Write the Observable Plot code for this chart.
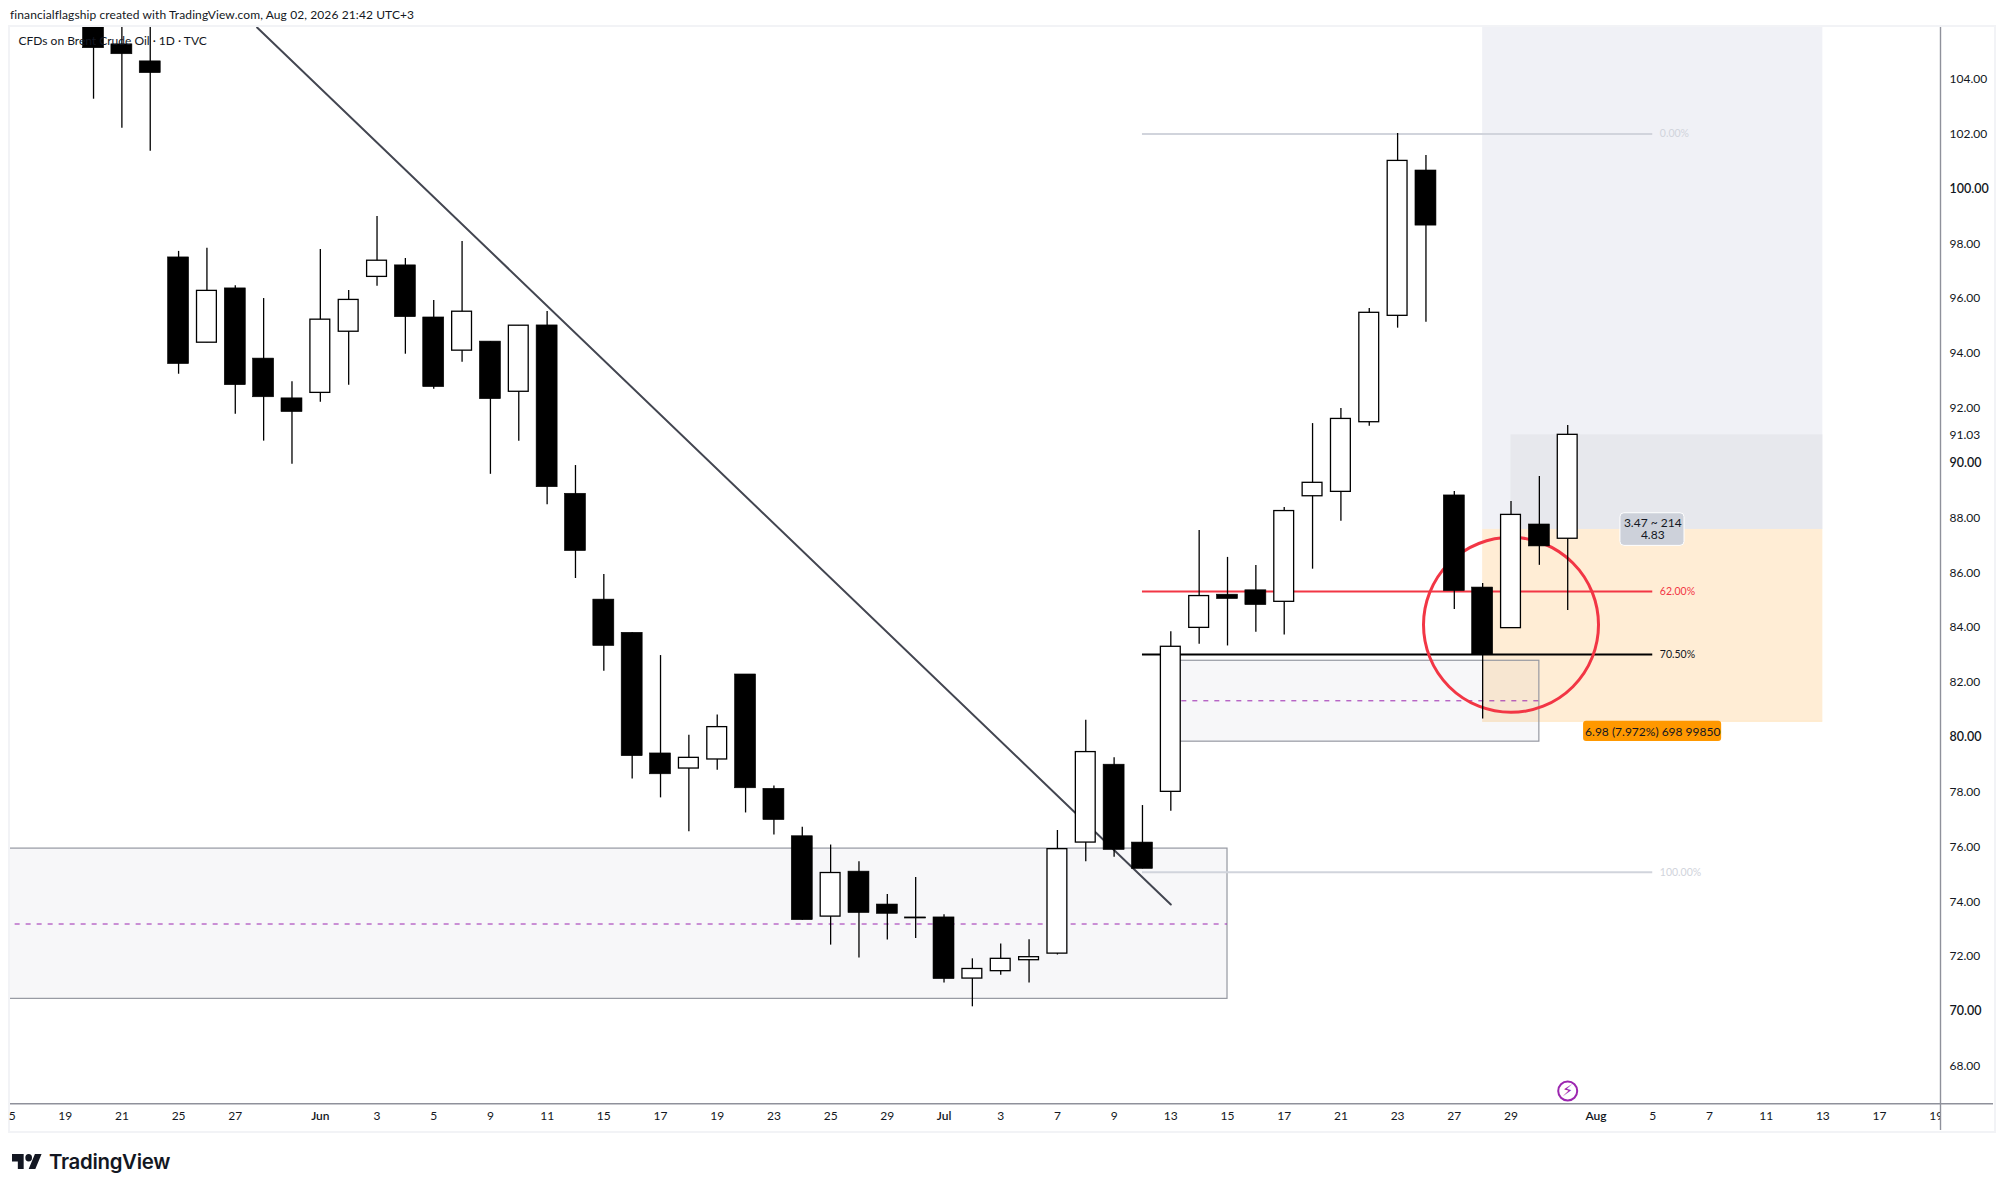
<!DOCTYPE html>
<html>
<head>
<meta charset="utf-8">
<script src="https://cdn.jsdelivr.net/npm/d3@7"></script>
<script src="https://cdn.jsdelivr.net/npm/@observablehq/plot@0.6"></script>
<style>
  html, body { margin: 0; padding: 0; background: #fff; width: 2004px; height: 1191px; overflow: hidden; font-family: Lato, sans-serif; color: #131722; }
  #head { position: absolute; left: 10px; top: 7px; font-size: 12px; line-height: 16px; letter-spacing: 0.1px; white-space: nowrap; }
  #chart { position: absolute; left: 0; top: 27px; }
  #border { position: absolute; left: 8px; top: 25px; width: 1984px; height: 1104px; border: 2px solid #f2f3f6; pointer-events: none; }
  #foot { position: absolute; left: 12px; top: 1147px; height: 28px; display: flex; align-items: center; gap: 7px; font-family: Inter, sans-serif; font-weight: 600; font-size: 20.4px; letter-spacing: -0.3px; color: #131722; }
</style>
</head>
<body>
<div id="head">financialflagship created with TradingView.com, Aug 02, 2026 21:42 UTC+3</div>
<div id="border"></div>
<div id="chart"></div>
<div id="foot"><svg width="30" height="15" viewBox="0 6 36 16" preserveAspectRatio="none"><path fill="#131722" d="M14 6H0v8h7v8h7V6Zm14 16h-8l7.5-16h8L28 22Zm-8-8a4 4 0 1 0 0-8 4 4 0 0 0 0 8Z"/></svg><span>TradingView</span></div>
<script>
// Daily candles, May 20 to Jul 31 (weekday sessions; index 0 is May 19)
const opens  = [106.5,105.27,104.65,97.50,94.39,96.37,93.81,92.36,92.56,94.79,96.79,97.21,95.31,94.10,94.43,92.60,95.02,88.88,85.02,83.81,79.41,78.86,79.19,82.29,78.12,76.39,73.46,75.10,73.90,73.43,73.43,71.20,71.47,71.87,72.11,76.16,79.00,76.16,78.01,83.99,85.20,85.36,84.94,88.79,88.95,91.49,95.37,100.67,88.82,85.46,83.98,87.76,87.24];
const highs  = [107.5,106.5,106.4,97.72,97.83,96.47,96.00,92.97,97.79,96.29,98.99,97.46,95.93,98.08,94.43,95.01,95.53,89.91,85.94,83.81,82.98,80.07,80.81,82.29,78.22,76.72,76.07,75.46,74.27,74.89,73.53,71.92,72.46,72.62,76.60,80.62,79.25,77.51,83.85,87.54,86.56,86.26,88.38,91.44,91.99,95.64,102.02,101.22,88.96,85.61,88.60,89.51,91.37];
const lows   = [103.27,102.21,101.37,93.24,94.39,91.78,90.80,89.96,92.22,92.84,96.45,93.97,92.69,93.68,89.59,90.80,88.48,85.79,82.41,78.48,77.79,76.55,78.80,77.24,76.44,73.33,72.42,71.95,72.61,72.66,71.04,70.17,71.32,71.04,72.06,75.46,75.62,75.20,77.30,83.39,83.33,83.83,83.73,86.13,87.88,91.34,94.92,95.14,84.66,80.67,83.98,86.27,84.62];
const closes = [105.13,104.91,104.22,93.61,96.28,92.84,92.40,91.86,95.23,95.95,97.38,95.32,92.77,95.52,92.33,95.01,89.12,86.79,83.33,79.31,78.65,79.25,80.37,78.14,76.98,73.33,75.05,73.59,73.56,73.39,71.18,71.55,71.92,71.98,75.92,79.46,75.89,75.20,83.30,85.15,85.04,84.82,88.25,89.28,91.61,95.48,101.02,98.66,85.33,83.00,88.11,86.96,91.03];

// Axis ticks
const dayTickIndex  = [-1.87,0,2,4,6,11,13,15,17,19,21,23,25,27,29,33,35,37,39,41,43,45,47,49,51,56,58,60,62,64,66];
const dayTickLabels = ["5","19","21","25","27","3","5","9","11","15","17","19","23","25","29","3","7","9","13","15","17","21","23","27","29","5","7","11","13","17","19"];
const monthTickIndex  = [9,31,54];
const monthTickLabels = ["Jun","Jul","Aug"];
const priceTicks = [104,102,98,96,94,92,91.03,88,86,84,82,78,76,74,72,68];
const priceTicksStrong = [100,90,80,70];

// Annotations
const fibLevels = [102.0,85.32,83.02,75.08];
const fibLabels = ["0.00%","62.00%","70.50%","100.00%"];
const fibColors = ["#d1d4dc","#f23645","#000000","#d1d4dc"];
const fibTextColors = ["#d1d4dc","#f23645","#131722","#d1d4dc"];
const zoneTop = [75.94,82.79];
const zoneBottom = [70.46,79.84];
const zoneMid = [73.19,81.33];
const trendIndex = [6.77,39.0];
const trendPrice = [105.885,73.90];

const X0 = -1.929, X1 = 66.15, YLOW = 66.633, YHIGH = 105.885;
const candles = opens.map((o, k) => ({i: k + 1, o, h: highs[k], l: lows[k], c: closes[k]}));
const up = candles.filter(d => d.c > d.o);
const down = candles.filter(d => d.c <= d.o);
const fib = fibLevels.map((p, k) => ({p, label: fibLabels[k], color: fibColors[k], text: fibTextColors[k]}));
const zones = [{x1: X0 - 1, x2: 41, k: 0}, {x1: 39, x2: 52, k: 1}];
const font = "Lato, sans-serif";

const chart = Plot.plot({
  width: 1994, height: 1103,
  marginLeft: 10, marginRight: 54, marginTop: 0, marginBottom: 27,
  style: {background: "transparent", fontFamily: font, color: "#131722"},
  x: {type: "linear", domain: [X0, X1], range: [10, 1940], axis: null},
  y: {type: "linear", domain: [YLOW, YHIGH], range: [1076.3, 0], axis: null},
  marks: [
    // long position tool
    Plot.rect([0], {x1: 50, x2: 62, y1: 87.58, y2: YHIGH, fill: "#f0f1f6"}),
    Plot.rect([0], {x1: 51, x2: 62, y1: 87.58, y2: 91.03, fill: "#e7e8ed"}),
    Plot.rect([0], {x1: 50, x2: 62, y1: 80.59, y2: 87.58, fill: "#ffedd5"}),
    Plot.ruleY([80.59], {x1: 50, x2: 62, stroke: "#ffdfb0", strokeWidth: 1}),
    // zones
    Plot.rect(zones, {x1: "x1", x2: "x2", y1: d => zoneBottom[d.k], y2: d => zoneTop[d.k], fill: "#6f7896", fillOpacity: 0.06, stroke: "#9598a1", strokeWidth: 1.2, clip: "frame"}),
    Plot.ruleY(zones, {x1: "x1", x2: "x2", y: d => zoneMid[d.k], stroke: "#9c27b0", strokeWidth: 1, strokeDasharray: "5 6", clip: "frame"}),
    // fib levels
    Plot.ruleY(fib, {y: "p", x1: 38, x2: 56, stroke: "color", strokeWidth: 2}),
    // trend line and circle
    Plot.line(trendIndex.map((x, k) => ({x, y: trendPrice[k]})), {x: "x", y: "y", stroke: "#434651", strokeWidth: 2, clip: "frame"}),
    Plot.dot([0], {x: 51, y: 84.10, r: 87.5, stroke: "#f23645", strokeWidth: 3, fill: "none"}),
    // candles
    Plot.ruleX(candles, {x: "i", y1: "l", y2: "h", stroke: "#000", strokeWidth: 1.3, clip: "frame"}),
    Plot.rect(up, {x1: d => d.i - 0.35, x2: d => d.i + 0.35, y1: "o", y2: "c", fill: "#fff", stroke: "#000", strokeWidth: 1.3, clip: "frame"}),
    Plot.rect(down, {x1: d => d.i - 0.37, x2: d => d.i + 0.37, y1: "c", y2: "o", fill: "#000", stroke: "#000", strokeWidth: 0.6, clip: "frame"}),
    // labels
    Plot.text(fib, {x: 56.25, y: "p", text: "label", fill: "text", fontSize: 10.5, textAnchor: "start"}),
    Plot.rect([0], {x1: 54.86, x2: 57.12, y1: 86.98, y2: 88.17, fill: "#cdd1da", stroke: "#fff", strokeWidth: 1, rx: 4}),
    Plot.text(["3.47 ~ 214\n4.83"], {x: 56, y: 87.58, text: d => d, fill: "#131722", fontSize: 12, lineHeight: 1, textAnchor: "middle"}),
    Plot.rect([0], {x1: 53.56, x2: 58.43, y1: 79.85, y2: 80.58, fill: "#ff9800", rx: 3}),
    Plot.text(["6.98 (7.972%) 698 99850"], {x: 56, y: 80.2, text: d => d, fill: "#131722", fontSize: 12, textAnchor: "middle"}),
    // pane title
    Plot.text(["CFDs on Brent Crude Oil · 1D · TVC"], {frameAnchor: "top-left", dx: 8, dy: 9, text: d => d, fill: "#131722", fontSize: 12, textAnchor: "start"}),
    // event marker
    Plot.dot([0], {x: 53, y: 67.1, r: 9.5, stroke: "#9c27b0", strokeWidth: 2, fill: "#fff"}),
    Plot.text(["⚡"], {x: 53, y: 67.1, text: d => d, fill: "#9c27b0", fontSize: 16, fontFamily: "DejaVu Sans"}),
    // axes
    Plot.axisX(dayTickIndex, {anchor: "bottom", tickSize: 0, tickPadding: 8, fontSize: 12, label: null, tickFormat: v => dayTickLabels[dayTickIndex.indexOf(v)]}),
    Plot.axisX(monthTickIndex, {anchor: "bottom", tickSize: 0, tickPadding: 8, fontSize: 12, fontWeight: 600, label: null, tickFormat: v => monthTickLabels[monthTickIndex.indexOf(v)]}),
    Plot.rect([0], {x1: X1, x2: 68, y1: 65.65, y2: YLOW, fill: "#fff"}),
    Plot.ruleX([X1], {y1: 65.65, y2: YHIGH, stroke: "#8f919b", strokeWidth: 1.4}),
    Plot.ruleY([YLOW], {x1: X0, x2: 68.02, stroke: "#8f919b", strokeWidth: 1.4}),
    Plot.axisY(priceTicks, {anchor: "right", tickSize: 0, tickPadding: 9, fontSize: 12, label: null, tickFormat: v => v.toFixed(2)}),
    Plot.axisY(priceTicksStrong, {anchor: "right", tickSize: 0, tickPadding: 9, fontSize: 12.5, fontWeight: 600, label: null, tickFormat: v => v.toFixed(2)})
  ]
});
document.getElementById("chart").appendChild(chart);
</script>
</body>
</html>
